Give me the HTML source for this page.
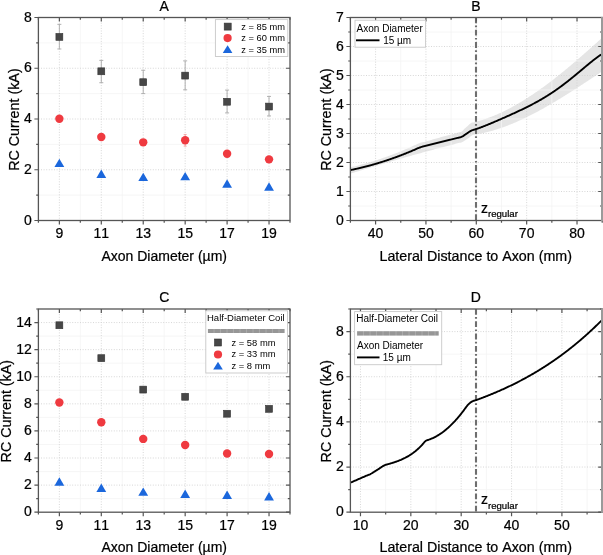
<!DOCTYPE html>
<html><head><meta charset="utf-8"><style>
html,body{margin:0;padding:0;background:#fff;width:603px;height:555px;overflow:hidden}
svg{display:block;will-change:transform;font-kerning:none}
.b{stroke:#000;stroke-width:0.22px}
</style></head><body>
<svg width="603" height="555" viewBox="0 0 603 555" font-family='"Liberation Sans", sans-serif' fill="#000">
<rect width="603" height="555" fill="#fff"/>
<defs><pattern id="hb" x="0" y="0" width="6.5" height="10" patternUnits="userSpaceOnUse"><rect width="6.5" height="10" fill="#969696"/><rect x="5.5" width="1" height="10" fill="#aaa"/></pattern></defs>
<line x1="80.33" y1="17.5" x2="80.33" y2="220.5" stroke="#f4f4f4" stroke-width="0.8"/>
<line x1="122.27" y1="17.5" x2="122.27" y2="220.5" stroke="#f4f4f4" stroke-width="0.8"/>
<line x1="164.2" y1="17.5" x2="164.2" y2="220.5" stroke="#f4f4f4" stroke-width="0.8"/>
<line x1="206.13" y1="17.5" x2="206.13" y2="220.5" stroke="#f4f4f4" stroke-width="0.8"/>
<line x1="248.07" y1="17.5" x2="248.07" y2="220.5" stroke="#f4f4f4" stroke-width="0.8"/>
<line x1="38.4" y1="195.12" x2="290" y2="195.12" stroke="#f4f4f4" stroke-width="0.8"/>
<line x1="38.4" y1="144.38" x2="290" y2="144.38" stroke="#f4f4f4" stroke-width="0.8"/>
<line x1="38.4" y1="93.62" x2="290" y2="93.62" stroke="#f4f4f4" stroke-width="0.8"/>
<line x1="38.4" y1="42.88" x2="290" y2="42.88" stroke="#f4f4f4" stroke-width="0.8"/>
<line x1="59.37" y1="17.5" x2="59.37" y2="220.5" stroke="#d2d2d2" stroke-width="0.9" stroke-dasharray="1 1.6"/>
<line x1="101.3" y1="17.5" x2="101.3" y2="220.5" stroke="#d2d2d2" stroke-width="0.9" stroke-dasharray="1 1.6"/>
<line x1="143.23" y1="17.5" x2="143.23" y2="220.5" stroke="#d2d2d2" stroke-width="0.9" stroke-dasharray="1 1.6"/>
<line x1="185.17" y1="17.5" x2="185.17" y2="220.5" stroke="#d2d2d2" stroke-width="0.9" stroke-dasharray="1 1.6"/>
<line x1="227.1" y1="17.5" x2="227.1" y2="220.5" stroke="#d2d2d2" stroke-width="0.9" stroke-dasharray="1 1.6"/>
<line x1="269.03" y1="17.5" x2="269.03" y2="220.5" stroke="#d2d2d2" stroke-width="0.9" stroke-dasharray="1 1.6"/>
<line x1="38.4" y1="169.75" x2="290" y2="169.75" stroke="#d2d2d2" stroke-width="0.9" stroke-dasharray="1 1.6"/>
<line x1="38.4" y1="119" x2="290" y2="119" stroke="#d2d2d2" stroke-width="0.9" stroke-dasharray="1 1.6"/>
<line x1="38.4" y1="68.25" x2="290" y2="68.25" stroke="#d2d2d2" stroke-width="0.9" stroke-dasharray="1 1.6"/>
<path d="M59.37 24.35V48.97M57.37 24.35h4.0M57.37 48.97h4.0" stroke="#a8a8a8" stroke-width="0.9" fill="none"/>
<path d="M101.3 60.38V82.71M99.3 60.38h4.0M99.3 82.71h4.0" stroke="#a8a8a8" stroke-width="0.9" fill="none"/>
<path d="M143.23 70.28V93.62M141.23 70.28h4.0M141.23 93.62h4.0" stroke="#a8a8a8" stroke-width="0.9" fill="none"/>
<path d="M185.17 60.89V89.82M183.17 60.89h4.0M183.17 89.82h4.0" stroke="#a8a8a8" stroke-width="0.9" fill="none"/>
<path d="M227.1 90.07V112.91M225.1 90.07h4.0M225.1 112.91h4.0" stroke="#a8a8a8" stroke-width="0.9" fill="none"/>
<path d="M269.03 96.42V115.95M267.03 96.42h4.0M267.03 115.95h4.0" stroke="#a8a8a8" stroke-width="0.9" fill="none"/>
<path d="M59.37 115.95V121.54M57.87 115.95h3M57.87 121.54h3" stroke="#f4a0a0" stroke-width="0.9" fill="none"/>
<path d="M101.3 134.23V139.81M99.8 134.23h3M99.8 139.81h3" stroke="#f4a0a0" stroke-width="0.9" fill="none"/>
<path d="M143.23 139.55V145.14M141.73 139.55h3M141.73 145.14h3" stroke="#f4a0a0" stroke-width="0.9" fill="none"/>
<path d="M185.17 134.48V146.15M183.67 134.48h3M183.67 146.15h3" stroke="#f4a0a0" stroke-width="0.9" fill="none"/>
<path d="M227.1 151.48V156.05M225.6 151.48h3M225.6 156.05h3" stroke="#f4a0a0" stroke-width="0.9" fill="none"/>
<path d="M269.03 157.57V161.12M267.53 157.57h3M267.53 161.12h3" stroke="#f4a0a0" stroke-width="0.9" fill="none"/>
<rect x="55.92" y="33.46" width="6.9" height="6.9" fill="#474747" stroke="#333" stroke-width="0.6"/>
<rect x="97.85" y="67.85" width="6.9" height="6.9" fill="#474747" stroke="#333" stroke-width="0.6"/>
<rect x="139.78" y="78.76" width="6.9" height="6.9" fill="#474747" stroke="#333" stroke-width="0.6"/>
<rect x="181.72" y="72.16" width="6.9" height="6.9" fill="#474747" stroke="#333" stroke-width="0.6"/>
<rect x="223.65" y="98.3" width="6.9" height="6.9" fill="#474747" stroke="#333" stroke-width="0.6"/>
<rect x="265.58" y="103.12" width="6.9" height="6.9" fill="#474747" stroke="#333" stroke-width="0.6"/>
<circle cx="59.37" cy="118.75" r="4.2" fill="#ef3a40"/>
<circle cx="101.3" cy="137.02" r="4.2" fill="#ef3a40"/>
<circle cx="143.23" cy="142.34" r="4.2" fill="#ef3a40"/>
<circle cx="185.17" cy="140.31" r="4.2" fill="#ef3a40"/>
<circle cx="227.1" cy="153.76" r="4.2" fill="#ef3a40"/>
<circle cx="269.03" cy="159.35" r="4.2" fill="#ef3a40"/>
<path d="M59.37 158.7L64.27 167.1L54.47 167.1Z" fill="#1b67dc"/>
<path d="M101.3 169.61L106.2 178.01L96.4 178.01Z" fill="#1b67dc"/>
<path d="M143.23 172.66L148.13 181.06L138.33 181.06Z" fill="#1b67dc"/>
<path d="M185.17 171.89L190.07 180.29L180.27 180.29Z" fill="#1b67dc"/>
<path d="M227.1 179.25L232 187.65L222.2 187.65Z" fill="#1b67dc"/>
<path d="M269.03 182.3L273.93 190.7L264.13 190.7Z" fill="#1b67dc"/>
<path d="M59.37 220.5v4.0M59.37 17.5v4.0M101.3 220.5v4.0M101.3 17.5v4.0M143.23 220.5v4.0M143.23 17.5v4.0M185.17 220.5v4.0M185.17 17.5v4.0M227.1 220.5v4.0M227.1 17.5v4.0M269.03 220.5v4.0M269.03 17.5v4.0M38.4 220.5v2.2M38.4 17.5v2.2M80.33 220.5v2.2M80.33 17.5v2.2M122.27 220.5v2.2M122.27 17.5v2.2M164.2 220.5v2.2M164.2 17.5v2.2M206.13 220.5v2.2M206.13 17.5v2.2M248.07 220.5v2.2M248.07 17.5v2.2M290 220.5v2.2M290 17.5v2.2M38.4 220.5h-4.0M290 220.5h-4.0M38.4 169.75h-4.0M290 169.75h-4.0M38.4 119h-4.0M290 119h-4.0M38.4 68.25h-4.0M290 68.25h-4.0M38.4 17.5h-4.0M290 17.5h-4.0M38.4 195.12h-2.2M290 195.12h-2.2M38.4 144.38h-2.2M290 144.38h-2.2M38.4 93.62h-2.2M290 93.62h-2.2M38.4 42.88h-2.2M290 42.88h-2.2" stroke="#555" stroke-width="1.2" fill="none"/>
<rect x="38.4" y="17.5" width="251.6" height="203" fill="none" stroke="#555" stroke-width="1.3"/>
<text x="59.37" y="238.4" font-size="14" text-anchor="middle" class="b" >9</text>
<text x="101.3" y="238.4" font-size="14" text-anchor="middle" class="b" >11</text>
<text x="143.23" y="238.4" font-size="14" text-anchor="middle" class="b" >13</text>
<text x="185.17" y="238.4" font-size="14" text-anchor="middle" class="b" >15</text>
<text x="227.1" y="238.4" font-size="14" text-anchor="middle" class="b" >17</text>
<text x="269.03" y="238.4" font-size="14" text-anchor="middle" class="b" >19</text>
<text x="31.9" y="224.7" font-size="14" text-anchor="end" class="b" >0</text>
<text x="31.9" y="173.95" font-size="14" text-anchor="end" class="b" >2</text>
<text x="31.9" y="123.2" font-size="14" text-anchor="end" class="b" >4</text>
<text x="31.9" y="72.45" font-size="14" text-anchor="end" class="b" >6</text>
<text x="31.9" y="21.7" font-size="14" text-anchor="end" class="b" >8</text>
<text x="164.2" y="10.9" font-size="14" text-anchor="middle" class="b" >A</text>
<text x="164.2" y="261.3" font-size="14" text-anchor="middle" class="b" >Axon Diameter (µm)</text>
<text x="0" y="0" font-size="14.3" text-anchor="middle" class="b" transform="translate(19.3 119.6) rotate(-90)">RC Current (kA)</text>
<rect x="215.4" y="19.6" width="72.4" height="36.9" fill="#fff" stroke="#c8c8c8" stroke-width="0.9"/>
<rect x="224.2" y="23.1" width="7" height="7" fill="#474747" stroke="#333" stroke-width="0.6"/>
<circle cx="227.6" cy="38.1" r="4.1" fill="#ef3a40"/>
<path d="M227.6 45.3L232.4 53.1L222.8 53.1Z" fill="#1b67dc"/>
<text x="241.3" y="29.9" font-size="9.3" text-anchor="start" >z = 85 mm</text>
<text x="241.3" y="41.4" font-size="9.3" text-anchor="start" >z = 60 mm</text>
<text x="241.3" y="52.9" font-size="9.3" text-anchor="start" >z = 35 mm</text>
<path d="M350.4 167.31L351.4 167.08L352.4 166.85L353.4 166.62L354.4 166.38L355.4 166.14L356.4 165.89L357.4 165.64L358.4 165.39L359.4 165.13L360.4 164.87L361.4 164.6L362.4 164.34L363.4 164.06L364.4 163.79L365.4 163.51L366.4 163.23L367.4 162.94L368.4 162.65L369.4 162.36L370.4 162.06L371.4 161.76L372.4 161.45L373.4 161.15L374.4 160.83L375.4 160.52L376.4 160.2L377.4 159.88L378.4 159.55L379.4 159.22L380.4 158.89L381.4 158.55L382.4 158.21L383.4 157.86L384.4 157.52L385.4 157.16L386.4 156.81L387.4 156.45L388.4 156.09L389.4 155.72L390.4 155.35L391.4 154.98L392.4 154.6L393.4 154.22L394.4 153.83L395.4 153.44L396.4 153.05L397.4 152.66L398.4 152.26L399.4 151.85L400.4 151.45L401.4 151.04L402.4 150.62L403.4 150.21L404.4 149.79L405.4 149.36L406.4 148.93L407.4 148.5L408.4 148.07L409.4 147.63L410.4 147.18L411.4 146.74L412.4 146.29L413.4 145.83L414.4 145.37L415.4 144.91L416.4 144.44L417.4 143.97L418.4 143.55L419.4 143.17L420.4 142.83L421.4 142.54L422.4 142.3L423.4 142.1L424.4 141.89L425.4 141.6L426.4 141.31L427.4 141.02L428.4 140.74L429.4 140.45L430.4 140.17L431.4 139.88L432.4 139.6L433.4 139.32L434.4 139.04L435.4 138.76L436.4 138.48L437.4 138.2L438.4 137.92L439.4 137.65L440.4 137.37L441.4 137.1L442.4 136.82L443.4 136.55L444.4 136.28L445.4 136.01L446.4 135.74L447.4 135.47L448.4 135.21L449.4 134.94L450.4 134.68L451.4 134.41L452.4 134.15L453.4 133.89L454.4 133.62L455.4 133.36L456.4 133.1L457.4 132.85L458.4 132.59L459.4 132.33L460.4 132.09L461.4 131.63L462.4 130.93L463.4 129.98L464.4 128.8L465.4 127.9L466.4 127.05L467.4 126.2L468.4 125.34L469.4 124.27L470.4 123.42L471.4 122.83L472.4 122.48L473.4 122.38L474.4 122.16L475.4 121.91L476.4 121.65L477.4 121.39L478.4 121.11L479.4 120.83L480.4 120.53L481.4 120.23L482.4 119.92L483.4 119.6L484.4 119.27L485.4 118.93L486.4 118.59L487.4 118.23L488.4 117.87L489.4 117.5L490.4 117.12L491.4 116.73L492.4 116.34L493.4 115.94L494.4 115.53L495.4 115.11L496.4 114.68L497.4 114.25L498.4 113.8L499.4 113.35L500.4 112.9L501.4 112.43L502.4 111.96L503.4 111.48L504.4 110.99L505.4 110.5L506.4 110L507.4 109.49L508.4 108.98L509.4 108.45L510.4 107.92L511.4 107.39L512.4 106.84L513.4 106.29L514.4 105.74L515.4 105.17L516.4 104.6L517.4 104.03L518.4 103.44L519.4 102.85L520.4 102.26L521.4 101.65L522.4 101.05L523.4 100.43L524.4 99.81L525.4 99.18L526.4 98.55L527.4 97.91L528.4 97.27L529.4 96.62L530.4 95.96L531.4 95.3L532.4 94.63L533.4 93.96L534.4 93.28L535.4 92.59L536.4 91.9L537.4 91.21L538.4 90.51L539.4 89.8L540.4 89.09L541.4 88.37L542.4 87.65L543.4 86.93L544.4 86.2L545.4 85.46L546.4 84.72L547.4 83.97L548.4 83.22L549.4 82.47L550.4 81.71L551.4 80.95L552.4 80.18L553.4 79.4L554.4 78.63L555.4 77.85L556.4 77.06L557.4 76.27L558.4 75.48L559.4 74.68L560.4 73.88L561.4 73.07L562.4 72.26L563.4 71.45L564.4 70.63L565.4 69.81L566.4 68.99L567.4 68.16L568.4 67.33L569.4 66.49L570.4 65.65L571.4 64.81L572.4 63.97L573.4 63.12L574.4 62.27L575.4 61.42L576.4 60.56L577.4 59.7L578.4 58.83L579.4 57.97L580.4 57.1L581.4 56.23L582.4 55.36L583.4 54.48L584.4 53.6L585.4 52.72L586.4 51.83L587.4 50.95L588.4 50.06L589.4 49.17L590.4 48.28L591.4 47.38L592.4 46.48L593.4 45.58L594.4 44.68L595.4 43.78L596.4 42.88L597.4 41.97L598.4 41.06L599.4 40.15L600.4 39.24L601.4 38.33L601.8 37.96L601.8 71.67L601.4 71.93L600.4 72.59L599.4 73.25L598.4 73.91L597.4 74.57L596.4 75.23L595.4 75.89L594.4 76.55L593.4 77.21L592.4 77.87L591.4 78.53L590.4 79.19L589.4 79.84L588.4 80.5L587.4 81.16L586.4 81.81L585.4 82.47L584.4 83.12L583.4 83.77L582.4 84.43L581.4 85.08L580.4 85.73L579.4 86.38L578.4 87.03L577.4 87.67L576.4 88.32L575.4 88.96L574.4 89.6L573.4 90.24L572.4 90.88L571.4 91.52L570.4 92.15L569.4 92.79L568.4 93.42L567.4 94.05L566.4 94.68L565.4 95.3L564.4 95.93L563.4 96.55L562.4 97.16L561.4 97.78L560.4 98.39L559.4 99.01L558.4 99.62L557.4 100.22L556.4 100.82L555.4 101.43L554.4 102.02L553.4 102.62L552.4 103.21L551.4 103.8L550.4 104.38L549.4 104.97L548.4 105.55L547.4 106.12L546.4 106.69L545.4 107.26L544.4 107.83L543.4 108.39L542.4 108.95L541.4 109.5L540.4 110.05L539.4 110.6L538.4 111.14L537.4 111.68L536.4 112.22L535.4 112.75L534.4 113.27L533.4 113.79L532.4 114.31L531.4 114.83L530.4 115.33L529.4 115.84L528.4 116.34L527.4 116.83L526.4 117.32L525.4 117.81L524.4 118.29L523.4 118.77L522.4 119.24L521.4 119.7L520.4 120.16L519.4 120.62L518.4 121.07L517.4 121.51L516.4 121.95L515.4 122.38L514.4 122.81L513.4 123.24L512.4 123.65L511.4 124.06L510.4 124.47L509.4 124.87L508.4 125.26L507.4 125.65L506.4 126.03L505.4 126.41L504.4 126.77L503.4 127.14L502.4 127.49L501.4 127.84L500.4 128.19L499.4 128.52L498.4 128.85L497.4 129.18L496.4 129.49L495.4 129.8L494.4 130.11L493.4 130.4L492.4 130.69L491.4 130.97L490.4 131.25L489.4 131.51L488.4 131.77L487.4 132.03L486.4 132.27L485.4 132.51L484.4 132.74L483.4 132.96L482.4 133.18L481.4 133.38L480.4 133.58L479.4 133.78L478.4 133.96L477.4 134.13L476.4 134.3L475.4 134.46L474.4 134.6L473.4 134.79L472.4 135.18L471.4 135.77L470.4 136.56L469.4 137.53L468.4 138.18L467.4 138.83L466.4 139.48L465.4 140.13L464.4 140.8L463.4 141.52L462.4 142.08L461.4 142.49L460.4 142.74L459.4 142.85L458.4 143.1L457.4 143.36L456.4 143.61L455.4 143.87L454.4 144.13L453.4 144.38L452.4 144.64L451.4 144.9L450.4 145.16L449.4 145.42L448.4 145.68L447.4 145.94L446.4 146.2L445.4 146.46L444.4 146.72L443.4 146.98L442.4 147.25L441.4 147.51L440.4 147.77L439.4 148.04L438.4 148.3L437.4 148.57L436.4 148.83L435.4 149.1L434.4 149.37L433.4 149.63L432.4 149.9L431.4 150.17L430.4 150.44L429.4 150.71L428.4 150.98L427.4 151.25L426.4 151.52L425.4 151.79L424.4 152.07L423.4 152.34L422.4 152.61L421.4 152.89L420.4 153.16L419.4 153.44L418.4 153.71L417.4 153.99L416.4 154.26L415.4 154.54L414.4 154.82L413.4 155.1L412.4 155.37L411.4 155.65L410.4 155.93L409.4 156.21L408.4 156.49L407.4 156.78L406.4 157.06L405.4 157.34L404.4 157.62L403.4 157.91L402.4 158.19L401.4 158.47L400.4 158.76L399.4 159.04L398.4 159.33L397.4 159.62L396.4 159.9L395.4 160.19L394.4 160.48L393.4 160.77L392.4 161.06L391.4 161.35L390.4 161.64L389.4 161.93L388.4 162.22L387.4 162.51L386.4 162.8L385.4 163.09L384.4 163.39L383.4 163.68L382.4 163.98L381.4 164.27L380.4 164.57L379.4 164.86L378.4 165.16L377.4 165.46L376.4 165.75L375.4 166.05L374.4 166.35L373.4 166.65L372.4 166.95L371.4 167.25L370.4 167.55L369.4 167.85L368.4 168.15L367.4 168.45L366.4 168.76L365.4 169.06L364.4 169.36L363.4 169.67L362.4 169.97L361.4 170.28L360.4 170.58L359.4 170.89L358.4 171.2L357.4 171.5L356.4 171.81L355.4 172.12L354.4 172.43L353.4 172.74L352.4 173.05L351.4 173.36L350.4 173.67Z" fill="#e5e5e5"/>
<line x1="400.76" y1="17.5" x2="400.76" y2="220.5" stroke="#f4f4f4" stroke-width="0.8"/>
<line x1="451.12" y1="17.5" x2="451.12" y2="220.5" stroke="#f4f4f4" stroke-width="0.8"/>
<line x1="501.48" y1="17.5" x2="501.48" y2="220.5" stroke="#f4f4f4" stroke-width="0.8"/>
<line x1="551.84" y1="17.5" x2="551.84" y2="220.5" stroke="#f4f4f4" stroke-width="0.8"/>
<line x1="350.4" y1="206" x2="602.2" y2="206" stroke="#f4f4f4" stroke-width="0.8"/>
<line x1="350.4" y1="177" x2="602.2" y2="177" stroke="#f4f4f4" stroke-width="0.8"/>
<line x1="350.4" y1="148" x2="602.2" y2="148" stroke="#f4f4f4" stroke-width="0.8"/>
<line x1="350.4" y1="119" x2="602.2" y2="119" stroke="#f4f4f4" stroke-width="0.8"/>
<line x1="350.4" y1="90" x2="602.2" y2="90" stroke="#f4f4f4" stroke-width="0.8"/>
<line x1="350.4" y1="61" x2="602.2" y2="61" stroke="#f4f4f4" stroke-width="0.8"/>
<line x1="350.4" y1="32" x2="602.2" y2="32" stroke="#f4f4f4" stroke-width="0.8"/>
<line x1="375.58" y1="17.5" x2="375.58" y2="220.5" stroke="#d2d2d2" stroke-width="0.9" stroke-dasharray="1 1.6"/>
<line x1="425.94" y1="17.5" x2="425.94" y2="220.5" stroke="#d2d2d2" stroke-width="0.9" stroke-dasharray="1 1.6"/>
<line x1="476.3" y1="17.5" x2="476.3" y2="220.5" stroke="#d2d2d2" stroke-width="0.9" stroke-dasharray="1 1.6"/>
<line x1="526.66" y1="17.5" x2="526.66" y2="220.5" stroke="#d2d2d2" stroke-width="0.9" stroke-dasharray="1 1.6"/>
<line x1="577.02" y1="17.5" x2="577.02" y2="220.5" stroke="#d2d2d2" stroke-width="0.9" stroke-dasharray="1 1.6"/>
<line x1="350.4" y1="191.5" x2="602.2" y2="191.5" stroke="#d2d2d2" stroke-width="0.9" stroke-dasharray="1 1.6"/>
<line x1="350.4" y1="162.5" x2="602.2" y2="162.5" stroke="#d2d2d2" stroke-width="0.9" stroke-dasharray="1 1.6"/>
<line x1="350.4" y1="133.5" x2="602.2" y2="133.5" stroke="#d2d2d2" stroke-width="0.9" stroke-dasharray="1 1.6"/>
<line x1="350.4" y1="104.5" x2="602.2" y2="104.5" stroke="#d2d2d2" stroke-width="0.9" stroke-dasharray="1 1.6"/>
<line x1="350.4" y1="75.5" x2="602.2" y2="75.5" stroke="#d2d2d2" stroke-width="0.9" stroke-dasharray="1 1.6"/>
<line x1="350.4" y1="46.5" x2="602.2" y2="46.5" stroke="#d2d2d2" stroke-width="0.9" stroke-dasharray="1 1.6"/>
<line x1="476.0" y1="17.5" x2="476.0" y2="220.5" stroke="#6e6e6e" stroke-width="2.1" stroke-dasharray="5.8 2.3 1.7 2.5"/>
<path d="M350.4 170.01L350.9 169.95L351.4 169.87L351.9 169.77L352.4 169.67L352.9 169.57L353.4 169.46L353.9 169.36L354.4 169.25L354.9 169.14L355.4 169.03L355.9 168.92L356.4 168.81L356.9 168.69L357.4 168.58L357.9 168.47L358.4 168.35L358.9 168.24L359.4 168.12L359.9 168L360.4 167.88L360.9 167.76L361.4 167.64L361.9 167.52L362.4 167.4L362.9 167.28L363.4 167.15L363.9 167.03L364.4 166.9L364.9 166.77L365.4 166.65L365.9 166.52L366.4 166.39L366.9 166.26L367.4 166.13L367.9 166L368.4 165.86L368.9 165.73L369.4 165.59L369.9 165.46L370.4 165.32L370.9 165.18L371.4 165.05L371.9 164.91L372.4 164.77L372.9 164.63L373.4 164.48L373.9 164.34L374.4 164.2L374.9 164.05L375.4 163.91L375.9 163.76L376.4 163.61L376.9 163.47L377.4 163.32L377.9 163.17L378.4 163.02L378.9 162.86L379.4 162.71L379.9 162.56L380.4 162.4L380.9 162.25L381.4 162.09L381.9 161.94L382.4 161.78L382.9 161.62L383.4 161.46L383.9 161.3L384.4 161.14L384.9 160.97L385.4 160.81L385.9 160.65L386.4 160.48L386.9 160.32L387.4 160.15L387.9 159.98L388.4 159.81L388.9 159.64L389.4 159.47L389.9 159.3L390.4 159.13L390.9 158.96L391.4 158.78L391.9 158.61L392.4 158.43L392.9 158.26L393.4 158.08L393.9 157.9L394.4 157.72L394.9 157.54L395.4 157.36L395.9 157.18L396.4 156.99L396.9 156.81L397.4 156.63L397.9 156.44L398.4 156.25L398.9 156.07L399.4 155.88L399.9 155.69L400.4 155.5L400.9 155.31L401.4 155.12L401.9 154.92L402.4 154.73L402.9 154.54L403.4 154.34L403.9 154.14L404.4 153.95L404.9 153.75L405.4 153.55L405.9 153.35L406.4 153.15L406.9 152.95L407.4 152.74L407.9 152.54L408.4 152.34L408.9 152.13L409.4 151.93L409.9 151.72L410.4 151.51L410.9 151.3L411.4 151.09L411.9 150.88L412.4 150.66L412.9 150.45L413.4 150.23L413.9 150.01L414.4 149.79L414.9 149.56L415.4 149.33L415.9 149.1L416.4 148.88L416.9 148.66L417.4 148.45L417.9 148.24L418.4 148.04L418.9 147.85L419.4 147.67L419.9 147.49L420.4 147.31L420.9 147.14L421.4 146.97L421.9 146.81L422.4 146.65L422.9 146.51L423.4 146.37L423.9 146.24L424.4 146.12L424.9 146L425.4 145.88L425.9 145.76L426.4 145.64L426.9 145.51L427.4 145.39L427.9 145.27L428.4 145.14L428.9 145.02L429.4 144.89L429.9 144.77L430.4 144.64L430.9 144.52L431.4 144.39L431.9 144.27L432.4 144.14L432.9 144.02L433.4 143.89L433.9 143.77L434.4 143.64L434.9 143.52L435.4 143.39L435.9 143.27L436.4 143.14L436.9 143.02L437.4 142.89L437.9 142.77L438.4 142.64L438.9 142.52L439.4 142.39L439.9 142.27L440.4 142.15L440.9 142.02L441.4 141.9L441.9 141.77L442.4 141.65L442.9 141.52L443.4 141.4L443.9 141.28L444.4 141.15L444.9 141.03L445.4 140.9L445.9 140.78L446.4 140.66L446.9 140.53L447.4 140.41L447.9 140.29L448.4 140.16L448.9 140.04L449.4 139.92L449.9 139.79L450.4 139.67L450.9 139.55L451.4 139.42L451.9 139.3L452.4 139.18L452.9 139.05L453.4 138.93L453.9 138.81L454.4 138.68L454.9 138.56L455.4 138.44L455.9 138.32L456.4 138.19L456.9 138.07L457.4 137.95L457.9 137.83L458.4 137.71L458.9 137.59L459.4 137.48L459.9 137.37L460.4 137.24L460.9 137.09L461.4 136.92L461.9 136.7L462.4 136.45L462.9 136.16L463.4 135.84L463.9 135.5L464.4 135.15L464.9 134.8L465.4 134.46L465.9 134.12L466.4 133.79L466.9 133.46L467.4 133.13L467.9 132.79L468.4 132.44L468.9 132.09L469.4 131.75L469.9 131.42L470.4 131.11L470.9 130.84L471.4 130.6L471.9 130.39L472.4 130.21L472.9 130.05L473.4 129.91L473.9 129.76L474.4 129.61L474.9 129.46L475.4 129.3L475.9 129.13L476.4 128.97L476.9 128.8L477.4 128.63L477.9 128.45L478.4 128.28L478.9 128.1L479.4 127.92L479.9 127.74L480.4 127.55L480.9 127.37L481.4 127.18L481.9 126.99L482.4 126.8L482.9 126.61L483.4 126.41L483.9 126.22L484.4 126.02L484.9 125.83L485.4 125.63L485.9 125.43L486.4 125.23L486.9 125.03L487.4 124.82L487.9 124.62L488.4 124.41L488.9 124.21L489.4 124L489.9 123.79L490.4 123.59L490.9 123.38L491.4 123.17L491.9 122.96L492.4 122.75L492.9 122.53L493.4 122.32L493.9 122.11L494.4 121.9L494.9 121.68L495.4 121.47L495.9 121.25L496.4 121.04L496.9 120.82L497.4 120.61L497.9 120.39L498.4 120.17L498.9 119.96L499.4 119.74L499.9 119.52L500.4 119.3L500.9 119.08L501.4 118.86L501.9 118.64L502.4 118.42L502.9 118.2L503.4 117.98L503.9 117.76L504.4 117.54L504.9 117.32L505.4 117.1L505.9 116.88L506.4 116.65L506.9 116.43L507.4 116.21L507.9 115.98L508.4 115.76L508.9 115.54L509.4 115.31L509.9 115.09L510.4 114.86L510.9 114.64L511.4 114.41L511.9 114.18L512.4 113.96L512.9 113.73L513.4 113.5L513.9 113.27L514.4 113.04L514.9 112.81L515.4 112.58L515.9 112.35L516.4 112.12L516.9 111.89L517.4 111.66L517.9 111.42L518.4 111.19L518.9 110.96L519.4 110.72L519.9 110.48L520.4 110.25L520.9 110.01L521.4 109.77L521.9 109.53L522.4 109.29L522.9 109.05L523.4 108.81L523.9 108.57L524.4 108.32L524.9 108.08L525.4 107.83L525.9 107.59L526.4 107.34L526.9 107.09L527.4 106.84L527.9 106.59L528.4 106.34L528.9 106.09L529.4 105.83L529.9 105.58L530.4 105.32L530.9 105.06L531.4 104.8L531.9 104.54L532.4 104.28L532.9 104.02L533.4 103.75L533.9 103.49L534.4 103.22L534.9 102.95L535.4 102.68L535.9 102.41L536.4 102.14L536.9 101.86L537.4 101.58L537.9 101.31L538.4 101.03L538.9 100.74L539.4 100.46L539.9 100.18L540.4 99.89L540.9 99.6L541.4 99.31L541.9 99.02L542.4 98.73L542.9 98.43L543.4 98.13L543.9 97.83L544.4 97.53L544.9 97.23L545.4 96.93L545.9 96.62L546.4 96.31L546.9 96L547.4 95.69L547.9 95.37L548.4 95.06L548.9 94.74L549.4 94.42L549.9 94.1L550.4 93.77L550.9 93.44L551.4 93.12L551.9 92.79L552.4 92.45L552.9 92.12L553.4 91.78L553.9 91.44L554.4 91.1L554.9 90.76L555.4 90.41L555.9 90.07L556.4 89.72L556.9 89.37L557.4 89.01L557.9 88.66L558.4 88.3L558.9 87.94L559.4 87.58L559.9 87.22L560.4 86.85L560.9 86.48L561.4 86.12L561.9 85.74L562.4 85.37L562.9 85L563.4 84.62L563.9 84.24L564.4 83.86L564.9 83.48L565.4 83.09L565.9 82.71L566.4 82.32L566.9 81.93L567.4 81.54L567.9 81.15L568.4 80.75L568.9 80.36L569.4 79.96L569.9 79.56L570.4 79.16L570.9 78.76L571.4 78.35L571.9 77.95L572.4 77.54L572.9 77.13L573.4 76.73L573.9 76.32L574.4 75.91L574.9 75.49L575.4 75.08L575.9 74.67L576.4 74.25L576.9 73.84L577.4 73.42L577.9 73L578.4 72.59L578.9 72.17L579.4 71.75L579.9 71.33L580.4 70.91L580.9 70.49L581.4 70.08L581.9 69.66L582.4 69.24L582.9 68.82L583.4 68.4L583.9 67.98L584.4 67.56L584.9 67.14L585.4 66.73L585.9 66.31L586.4 65.89L586.9 65.48L587.4 65.07L587.9 64.65L588.4 64.24L588.9 63.83L589.4 63.42L589.9 63.01L590.4 62.61L590.9 62.21L591.4 61.8L591.9 61.4L592.4 61.01L592.9 60.61L593.4 60.22L593.9 59.83L594.4 59.44L594.9 59.06L595.4 58.67L595.9 58.3L596.4 57.92L596.9 57.55L597.4 57.18L597.9 56.82L598.4 56.46L598.9 56.1L599.4 55.75L599.9 55.41L600.4 55.08L600.9 54.79L601.4 54.54L601.8 54.35" stroke="#000" stroke-width="1.9" fill="none" stroke-linejoin="round"/>
<path d="M375.58 220.5v4.0M375.58 17.5v4.0M425.94 220.5v4.0M425.94 17.5v4.0M476.3 220.5v4.0M476.3 17.5v4.0M526.66 220.5v4.0M526.66 17.5v4.0M577.02 220.5v4.0M577.02 17.5v4.0M350.4 220.5v2.2M350.4 17.5v2.2M400.76 220.5v2.2M400.76 17.5v2.2M451.12 220.5v2.2M451.12 17.5v2.2M501.48 220.5v2.2M501.48 17.5v2.2M551.84 220.5v2.2M551.84 17.5v2.2M602.2 220.5v2.2M602.2 17.5v2.2M350.4 220.5h-4.0M602.2 220.5h-4.0M350.4 191.5h-4.0M602.2 191.5h-4.0M350.4 162.5h-4.0M602.2 162.5h-4.0M350.4 133.5h-4.0M602.2 133.5h-4.0M350.4 104.5h-4.0M602.2 104.5h-4.0M350.4 75.5h-4.0M602.2 75.5h-4.0M350.4 46.5h-4.0M602.2 46.5h-4.0M350.4 17.5h-4.0M602.2 17.5h-4.0M350.4 206h-2.2M602.2 206h-2.2M350.4 177h-2.2M602.2 177h-2.2M350.4 148h-2.2M602.2 148h-2.2M350.4 119h-2.2M602.2 119h-2.2M350.4 90h-2.2M602.2 90h-2.2M350.4 61h-2.2M602.2 61h-2.2M350.4 32h-2.2M602.2 32h-2.2" stroke="#555" stroke-width="1.2" fill="none"/>
<rect x="350.4" y="17.5" width="251.8" height="203" fill="none" stroke="#555" stroke-width="1.3"/>
<rect x="601" y="16.9" width="2" height="204.2" fill="#9a9a9a"/>
<text x="375.58" y="238.4" font-size="14" text-anchor="middle" class="b" >40</text>
<text x="425.94" y="238.4" font-size="14" text-anchor="middle" class="b" >50</text>
<text x="476.3" y="238.4" font-size="14" text-anchor="middle" class="b" >60</text>
<text x="526.66" y="238.4" font-size="14" text-anchor="middle" class="b" >70</text>
<text x="577.02" y="238.4" font-size="14" text-anchor="middle" class="b" >80</text>
<text x="343.7" y="224.7" font-size="14" text-anchor="end" class="b" >0</text>
<text x="343.7" y="195.7" font-size="14" text-anchor="end" class="b" >1</text>
<text x="343.7" y="166.7" font-size="14" text-anchor="end" class="b" >2</text>
<text x="343.7" y="137.7" font-size="14" text-anchor="end" class="b" >3</text>
<text x="343.7" y="108.7" font-size="14" text-anchor="end" class="b" >4</text>
<text x="343.7" y="79.7" font-size="14" text-anchor="end" class="b" >5</text>
<text x="343.7" y="50.7" font-size="14" text-anchor="end" class="b" >6</text>
<text x="343.7" y="21.7" font-size="14" text-anchor="end" class="b" >7</text>
<text x="475.8" y="10.9" font-size="14" text-anchor="middle" class="b" >B</text>
<text x="475.7" y="261.3" font-size="14.25" text-anchor="middle" class="b" >Lateral Distance to Axon (mm)</text>
<text x="0" y="0" font-size="14.3" text-anchor="middle" class="b" transform="translate(331.3 119.6) rotate(-90)">RC Current (kA)</text>
<text class="b" x="481" y="212.7" font-size="14">z<tspan font-size="9.6" dy="4.1">regular</tspan></text>
<rect x="355" y="20.2" width="70.6" height="27" fill="#fff" stroke="#c8c8c8" stroke-width="0.9"/>
<text x="356.6" y="31.6" font-size="10" text-anchor="start" >Axon Diameter</text>
<line x1="356" y1="40.3" x2="379.5" y2="40.3" stroke="#000" stroke-width="1.9"/>
<text x="383.2" y="44" font-size="10" text-anchor="start" >15 µm</text>
<line x1="80.33" y1="309" x2="80.33" y2="512.2" stroke="#f4f4f4" stroke-width="0.8"/>
<line x1="122.27" y1="309" x2="122.27" y2="512.2" stroke="#f4f4f4" stroke-width="0.8"/>
<line x1="164.2" y1="309" x2="164.2" y2="512.2" stroke="#f4f4f4" stroke-width="0.8"/>
<line x1="206.13" y1="309" x2="206.13" y2="512.2" stroke="#f4f4f4" stroke-width="0.8"/>
<line x1="248.07" y1="309" x2="248.07" y2="512.2" stroke="#f4f4f4" stroke-width="0.8"/>
<line x1="38.4" y1="498.65" x2="290" y2="498.65" stroke="#f4f4f4" stroke-width="0.8"/>
<line x1="38.4" y1="471.56" x2="290" y2="471.56" stroke="#f4f4f4" stroke-width="0.8"/>
<line x1="38.4" y1="444.47" x2="290" y2="444.47" stroke="#f4f4f4" stroke-width="0.8"/>
<line x1="38.4" y1="417.37" x2="290" y2="417.37" stroke="#f4f4f4" stroke-width="0.8"/>
<line x1="38.4" y1="390.28" x2="290" y2="390.28" stroke="#f4f4f4" stroke-width="0.8"/>
<line x1="38.4" y1="363.19" x2="290" y2="363.19" stroke="#f4f4f4" stroke-width="0.8"/>
<line x1="38.4" y1="336.09" x2="290" y2="336.09" stroke="#f4f4f4" stroke-width="0.8"/>
<line x1="59.37" y1="309" x2="59.37" y2="512.2" stroke="#d2d2d2" stroke-width="0.9" stroke-dasharray="1 1.6"/>
<line x1="101.3" y1="309" x2="101.3" y2="512.2" stroke="#d2d2d2" stroke-width="0.9" stroke-dasharray="1 1.6"/>
<line x1="143.23" y1="309" x2="143.23" y2="512.2" stroke="#d2d2d2" stroke-width="0.9" stroke-dasharray="1 1.6"/>
<line x1="185.17" y1="309" x2="185.17" y2="512.2" stroke="#d2d2d2" stroke-width="0.9" stroke-dasharray="1 1.6"/>
<line x1="227.1" y1="309" x2="227.1" y2="512.2" stroke="#d2d2d2" stroke-width="0.9" stroke-dasharray="1 1.6"/>
<line x1="269.03" y1="309" x2="269.03" y2="512.2" stroke="#d2d2d2" stroke-width="0.9" stroke-dasharray="1 1.6"/>
<line x1="38.4" y1="485.11" x2="290" y2="485.11" stroke="#d2d2d2" stroke-width="0.9" stroke-dasharray="1 1.6"/>
<line x1="38.4" y1="458.01" x2="290" y2="458.01" stroke="#d2d2d2" stroke-width="0.9" stroke-dasharray="1 1.6"/>
<line x1="38.4" y1="430.92" x2="290" y2="430.92" stroke="#d2d2d2" stroke-width="0.9" stroke-dasharray="1 1.6"/>
<line x1="38.4" y1="403.83" x2="290" y2="403.83" stroke="#d2d2d2" stroke-width="0.9" stroke-dasharray="1 1.6"/>
<line x1="38.4" y1="376.73" x2="290" y2="376.73" stroke="#d2d2d2" stroke-width="0.9" stroke-dasharray="1 1.6"/>
<line x1="38.4" y1="349.64" x2="290" y2="349.64" stroke="#d2d2d2" stroke-width="0.9" stroke-dasharray="1 1.6"/>
<line x1="38.4" y1="322.55" x2="290" y2="322.55" stroke="#d2d2d2" stroke-width="0.9" stroke-dasharray="1 1.6"/>
<rect x="55.92" y="321.81" width="6.9" height="6.9" fill="#474747" stroke="#333" stroke-width="0.6"/>
<rect x="97.85" y="354.72" width="6.9" height="6.9" fill="#474747" stroke="#333" stroke-width="0.6"/>
<rect x="139.78" y="386.15" width="6.9" height="6.9" fill="#474747" stroke="#333" stroke-width="0.6"/>
<rect x="181.72" y="393.33" width="6.9" height="6.9" fill="#474747" stroke="#333" stroke-width="0.6"/>
<rect x="223.65" y="410.27" width="6.9" height="6.9" fill="#474747" stroke="#333" stroke-width="0.6"/>
<rect x="265.58" y="405.39" width="6.9" height="6.9" fill="#474747" stroke="#333" stroke-width="0.6"/>
<circle cx="59.37" cy="402.47" r="4.2" fill="#ef3a40"/>
<circle cx="101.3" cy="422.25" r="4.2" fill="#ef3a40"/>
<circle cx="143.23" cy="438.91" r="4.2" fill="#ef3a40"/>
<circle cx="185.17" cy="445.01" r="4.2" fill="#ef3a40"/>
<circle cx="227.1" cy="453.54" r="4.2" fill="#ef3a40"/>
<circle cx="269.03" cy="453.95" r="4.2" fill="#ef3a40"/>
<path d="M59.37 477.25L64.27 485.65L54.47 485.65Z" fill="#1b67dc"/>
<path d="M101.3 483.48L106.2 491.88L96.4 491.88Z" fill="#1b67dc"/>
<path d="M143.23 487.41L148.13 495.81L138.33 495.81Z" fill="#1b67dc"/>
<path d="M185.17 489.58L190.07 497.98L180.27 497.98Z" fill="#1b67dc"/>
<path d="M227.1 490.52L232 498.92L222.2 498.92Z" fill="#1b67dc"/>
<path d="M269.03 492.01L273.93 500.41L264.13 500.41Z" fill="#1b67dc"/>
<path d="M59.37 512.2v4.0M59.37 309v4.0M101.3 512.2v4.0M101.3 309v4.0M143.23 512.2v4.0M143.23 309v4.0M185.17 512.2v4.0M185.17 309v4.0M227.1 512.2v4.0M227.1 309v4.0M269.03 512.2v4.0M269.03 309v4.0M38.4 512.2v2.2M38.4 309v2.2M80.33 512.2v2.2M80.33 309v2.2M122.27 512.2v2.2M122.27 309v2.2M164.2 512.2v2.2M164.2 309v2.2M206.13 512.2v2.2M206.13 309v2.2M248.07 512.2v2.2M248.07 309v2.2M290 512.2v2.2M290 309v2.2M38.4 512.2h-4.0M290 512.2h-4.0M38.4 485.11h-4.0M290 485.11h-4.0M38.4 458.01h-4.0M290 458.01h-4.0M38.4 430.92h-4.0M290 430.92h-4.0M38.4 403.83h-4.0M290 403.83h-4.0M38.4 376.73h-4.0M290 376.73h-4.0M38.4 349.64h-4.0M290 349.64h-4.0M38.4 322.55h-4.0M290 322.55h-4.0M38.4 498.65h-2.2M290 498.65h-2.2M38.4 471.56h-2.2M290 471.56h-2.2M38.4 444.47h-2.2M290 444.47h-2.2M38.4 417.37h-2.2M290 417.37h-2.2M38.4 390.28h-2.2M290 390.28h-2.2M38.4 363.19h-2.2M290 363.19h-2.2M38.4 336.09h-2.2M290 336.09h-2.2M38.4 309h-2.2M290 309h-2.2" stroke="#555" stroke-width="1.2" fill="none"/>
<rect x="38.4" y="309" width="251.6" height="203.2" fill="none" stroke="#555" stroke-width="1.3"/>
<text x="59.37" y="530" font-size="14" text-anchor="middle" class="b" >9</text>
<text x="101.3" y="530" font-size="14" text-anchor="middle" class="b" >11</text>
<text x="143.23" y="530" font-size="14" text-anchor="middle" class="b" >13</text>
<text x="185.17" y="530" font-size="14" text-anchor="middle" class="b" >15</text>
<text x="227.1" y="530" font-size="14" text-anchor="middle" class="b" >17</text>
<text x="269.03" y="530" font-size="14" text-anchor="middle" class="b" >19</text>
<text x="31.9" y="516.4" font-size="14" text-anchor="end" class="b" >0</text>
<text x="31.9" y="489.31" font-size="14" text-anchor="end" class="b" >2</text>
<text x="31.9" y="462.21" font-size="14" text-anchor="end" class="b" >4</text>
<text x="31.9" y="435.12" font-size="14" text-anchor="end" class="b" >6</text>
<text x="31.9" y="408.03" font-size="14" text-anchor="end" class="b" >8</text>
<text x="31.9" y="380.93" font-size="14" text-anchor="end" class="b" >10</text>
<text x="31.9" y="353.84" font-size="14" text-anchor="end" class="b" >12</text>
<text x="31.9" y="326.75" font-size="14" text-anchor="end" class="b" >14</text>
<text x="164.2" y="301.6" font-size="14" text-anchor="middle" class="b" >C</text>
<text x="164.2" y="552.4" font-size="14" text-anchor="middle" class="b" >Axon Diameter (µm)</text>
<text x="0" y="0" font-size="14.3" text-anchor="middle" class="b" transform="translate(11.3 411.2) rotate(-90)">RC Current (kA)</text>
<rect x="205.8" y="310.8" width="81.7" height="62.2" fill="#fff" stroke="#c8c8c8" stroke-width="0.9"/>
<text x="207" y="321.1" font-size="9.5" text-anchor="start" >Half-Diameter Coil</text>
<rect x="207.9" y="329" width="76.7" height="4" fill="url(#hb)"/>
<rect x="214.5" y="339" width="7" height="7" fill="#474747" stroke="#333" stroke-width="0.6"/>
<circle cx="218" cy="354.5" r="4.1" fill="#ef3a40"/>
<path d="M218 361.7L222.8 369.5L213.2 369.5Z" fill="#1b67dc"/>
<text x="231.5" y="345.6" font-size="9.4" text-anchor="start" >z = 58 mm</text>
<text x="231.5" y="357.4" font-size="9.4" text-anchor="start" >z = 33 mm</text>
<text x="231.5" y="369.2" font-size="9.4" text-anchor="start" >z = 8 mm</text>
<line x1="385.65" y1="309" x2="385.65" y2="512.2" stroke="#f4f4f4" stroke-width="0.8"/>
<line x1="436.01" y1="309" x2="436.01" y2="512.2" stroke="#f4f4f4" stroke-width="0.8"/>
<line x1="486.37" y1="309" x2="486.37" y2="512.2" stroke="#f4f4f4" stroke-width="0.8"/>
<line x1="536.73" y1="309" x2="536.73" y2="512.2" stroke="#f4f4f4" stroke-width="0.8"/>
<line x1="587.09" y1="309" x2="587.09" y2="512.2" stroke="#f4f4f4" stroke-width="0.8"/>
<line x1="350.4" y1="489.62" x2="602.2" y2="489.62" stroke="#f4f4f4" stroke-width="0.8"/>
<line x1="350.4" y1="444.47" x2="602.2" y2="444.47" stroke="#f4f4f4" stroke-width="0.8"/>
<line x1="350.4" y1="399.31" x2="602.2" y2="399.31" stroke="#f4f4f4" stroke-width="0.8"/>
<line x1="350.4" y1="354.16" x2="602.2" y2="354.16" stroke="#f4f4f4" stroke-width="0.8"/>
<line x1="360.47" y1="309" x2="360.47" y2="512.2" stroke="#d2d2d2" stroke-width="0.9" stroke-dasharray="1 1.6"/>
<line x1="410.83" y1="309" x2="410.83" y2="512.2" stroke="#d2d2d2" stroke-width="0.9" stroke-dasharray="1 1.6"/>
<line x1="461.19" y1="309" x2="461.19" y2="512.2" stroke="#d2d2d2" stroke-width="0.9" stroke-dasharray="1 1.6"/>
<line x1="511.55" y1="309" x2="511.55" y2="512.2" stroke="#d2d2d2" stroke-width="0.9" stroke-dasharray="1 1.6"/>
<line x1="561.91" y1="309" x2="561.91" y2="512.2" stroke="#d2d2d2" stroke-width="0.9" stroke-dasharray="1 1.6"/>
<line x1="350.4" y1="467.04" x2="602.2" y2="467.04" stroke="#d2d2d2" stroke-width="0.9" stroke-dasharray="1 1.6"/>
<line x1="350.4" y1="421.89" x2="602.2" y2="421.89" stroke="#d2d2d2" stroke-width="0.9" stroke-dasharray="1 1.6"/>
<line x1="350.4" y1="376.73" x2="602.2" y2="376.73" stroke="#d2d2d2" stroke-width="0.9" stroke-dasharray="1 1.6"/>
<line x1="350.4" y1="331.58" x2="602.2" y2="331.58" stroke="#d2d2d2" stroke-width="0.9" stroke-dasharray="1 1.6"/>
<line x1="476.0" y1="309" x2="476.0" y2="512.2" stroke="#6e6e6e" stroke-width="2.1" stroke-dasharray="5.8 2.3 1.7 2.5"/>
<path d="M350.4 482.53L350.9 482.4L351.4 482.23L351.9 482.04L352.4 481.83L352.9 481.61L353.4 481.39L353.9 481.17L354.4 480.96L354.9 480.74L355.4 480.52L355.9 480.3L356.4 480.08L356.9 479.86L357.4 479.65L357.9 479.43L358.4 479.21L358.9 478.99L359.4 478.77L359.9 478.55L360.4 478.34L360.9 478.12L361.4 477.9L361.9 477.68L362.4 477.46L362.9 477.24L363.4 477.02L363.9 476.81L364.4 476.59L364.9 476.37L365.4 476.15L365.9 475.94L366.4 475.73L366.9 475.53L367.4 475.34L367.9 475.14L368.4 474.95L368.9 474.75L369.4 474.53L369.9 474.3L370.4 474.05L370.9 473.78L371.4 473.51L371.9 473.22L372.4 472.91L372.9 472.6L373.4 472.29L373.9 471.98L374.4 471.66L374.9 471.35L375.4 471.03L375.9 470.72L376.4 470.41L376.9 470.09L377.4 469.78L377.9 469.47L378.4 469.15L378.9 468.83L379.4 468.5L379.9 468.16L380.4 467.81L380.9 467.46L381.4 467.11L381.9 466.77L382.4 466.45L382.9 466.14L383.4 465.86L383.9 465.6L384.4 465.36L384.9 465.14L385.4 464.94L385.9 464.76L386.4 464.61L386.9 464.46L387.4 464.33L387.9 464.2L388.4 464.07L388.9 463.94L389.4 463.8L389.9 463.65L390.4 463.5L390.9 463.35L391.4 463.2L391.9 463.04L392.4 462.89L392.9 462.73L393.4 462.57L393.9 462.41L394.4 462.25L394.9 462.08L395.4 461.91L395.9 461.74L396.4 461.56L396.9 461.38L397.4 461.2L397.9 461.02L398.4 460.83L398.9 460.64L399.4 460.44L399.9 460.24L400.4 460.03L400.9 459.83L401.4 459.61L401.9 459.39L402.4 459.17L402.9 458.94L403.4 458.71L403.9 458.47L404.4 458.23L404.9 457.98L405.4 457.72L405.9 457.46L406.4 457.19L406.9 456.92L407.4 456.64L407.9 456.35L408.4 456.06L408.9 455.76L409.4 455.45L409.9 455.14L410.4 454.82L410.9 454.49L411.4 454.15L411.9 453.81L412.4 453.45L412.9 453.09L413.4 452.73L413.9 452.35L414.4 451.96L414.9 451.57L415.4 451.17L415.9 450.75L416.4 450.33L416.9 449.9L417.4 449.46L417.9 449.01L418.4 448.56L418.9 448.09L419.4 447.61L419.9 447.12L420.4 446.62L420.9 446.11L421.4 445.59L421.9 445.05L422.4 444.51L422.9 443.94L423.4 443.35L423.9 442.75L424.4 442.16L424.9 441.61L425.4 441.14L425.9 440.77L426.4 440.49L426.9 440.28L427.4 440.12L427.9 439.97L428.4 439.81L428.9 439.65L429.4 439.47L429.9 439.29L430.4 439.1L430.9 438.9L431.4 438.7L431.9 438.49L432.4 438.27L432.9 438.04L433.4 437.81L433.9 437.57L434.4 437.32L434.9 437.07L435.4 436.81L435.9 436.54L436.4 436.26L436.9 435.98L437.4 435.69L437.9 435.39L438.4 435.09L438.9 434.78L439.4 434.46L439.9 434.13L440.4 433.8L440.9 433.46L441.4 433.11L441.9 432.76L442.4 432.39L442.9 432.03L443.4 431.65L443.9 431.27L444.4 430.88L444.9 430.48L445.4 430.08L445.9 429.67L446.4 429.25L446.9 428.82L447.4 428.39L447.9 427.95L448.4 427.51L448.9 427.05L449.4 426.59L449.9 426.12L450.4 425.65L450.9 425.17L451.4 424.68L451.9 424.18L452.4 423.68L452.9 423.17L453.4 422.66L453.9 422.13L454.4 421.6L454.9 421.07L455.4 420.52L455.9 419.97L456.4 419.41L456.9 418.85L457.4 418.28L457.9 417.7L458.4 417.11L458.9 416.51L459.4 415.9L459.9 415.29L460.4 414.67L460.9 414.05L461.4 413.42L461.9 412.78L462.4 412.13L462.9 411.47L463.4 410.81L463.9 410.14L464.4 409.47L464.9 408.79L465.4 408.11L465.9 407.43L466.4 406.75L466.9 406.1L467.4 405.48L467.9 404.9L468.4 404.36L468.9 403.87L469.4 403.42L469.9 403.02L470.4 402.6L470.9 402.21L471.4 401.86L471.9 401.55L472.4 401.29L472.9 401.08L473.4 400.9L473.9 400.75L474.4 400.6L474.9 400.45L475.4 400.3L475.9 400.14L476.4 399.98L476.9 399.81L477.4 399.63L477.9 399.45L478.4 399.27L478.9 399.09L479.4 398.91L479.9 398.72L480.4 398.54L480.9 398.35L481.4 398.16L481.9 397.97L482.4 397.78L482.9 397.59L483.4 397.4L483.9 397.2L484.4 397.01L484.9 396.81L485.4 396.62L485.9 396.42L486.4 396.22L486.9 396.03L487.4 395.83L487.9 395.63L488.4 395.43L488.9 395.23L489.4 395.03L489.9 394.82L490.4 394.62L490.9 394.42L491.4 394.21L491.9 394L492.4 393.8L492.9 393.59L493.4 393.38L493.9 393.17L494.4 392.96L494.9 392.75L495.4 392.54L495.9 392.33L496.4 392.11L496.9 391.9L497.4 391.68L497.9 391.47L498.4 391.25L498.9 391.03L499.4 390.81L499.9 390.59L500.4 390.37L500.9 390.15L501.4 389.93L501.9 389.7L502.4 389.48L502.9 389.26L503.4 389.03L503.9 388.8L504.4 388.57L504.9 388.34L505.4 388.11L505.9 387.88L506.4 387.65L506.9 387.42L507.4 387.18L507.9 386.95L508.4 386.71L508.9 386.48L509.4 386.24L509.9 386L510.4 385.76L510.9 385.52L511.4 385.28L511.9 385.04L512.4 384.79L512.9 384.55L513.4 384.3L513.9 384.05L514.4 383.81L514.9 383.56L515.4 383.31L515.9 383.06L516.4 382.8L516.9 382.55L517.4 382.3L517.9 382.04L518.4 381.78L518.9 381.53L519.4 381.27L519.9 381.01L520.4 380.75L520.9 380.48L521.4 380.22L521.9 379.96L522.4 379.69L522.9 379.43L523.4 379.16L523.9 378.89L524.4 378.62L524.9 378.35L525.4 378.08L525.9 377.8L526.4 377.53L526.9 377.25L527.4 376.98L527.9 376.7L528.4 376.42L528.9 376.14L529.4 375.86L529.9 375.58L530.4 375.29L530.9 375.01L531.4 374.72L531.9 374.43L532.4 374.15L532.9 373.86L533.4 373.57L533.9 373.27L534.4 372.98L534.9 372.68L535.4 372.39L535.9 372.09L536.4 371.79L536.9 371.49L537.4 371.19L537.9 370.89L538.4 370.59L538.9 370.28L539.4 369.98L539.9 369.67L540.4 369.36L540.9 369.05L541.4 368.74L541.9 368.43L542.4 368.11L542.9 367.8L543.4 367.48L543.9 367.16L544.4 366.85L544.9 366.53L545.4 366.2L545.9 365.88L546.4 365.56L546.9 365.23L547.4 364.9L547.9 364.58L548.4 364.25L548.9 363.91L549.4 363.58L549.9 363.25L550.4 362.91L550.9 362.58L551.4 362.24L551.9 361.9L552.4 361.56L552.9 361.22L553.4 360.87L553.9 360.53L554.4 360.18L554.9 359.83L555.4 359.48L555.9 359.13L556.4 358.78L556.9 358.43L557.4 358.07L557.9 357.72L558.4 357.36L558.9 357L559.4 356.64L559.9 356.28L560.4 355.91L560.9 355.55L561.4 355.18L561.9 354.81L562.4 354.44L562.9 354.07L563.4 353.7L563.9 353.32L564.4 352.95L564.9 352.57L565.4 352.19L565.9 351.81L566.4 351.43L566.9 351.05L567.4 350.66L567.9 350.28L568.4 349.89L568.9 349.5L569.4 349.11L569.9 348.72L570.4 348.32L570.9 347.93L571.4 347.53L571.9 347.13L572.4 346.73L572.9 346.33L573.4 345.92L573.9 345.52L574.4 345.11L574.9 344.7L575.4 344.29L575.9 343.88L576.4 343.47L576.9 343.05L577.4 342.63L577.9 342.22L578.4 341.8L578.9 341.37L579.4 340.95L579.9 340.53L580.4 340.1L580.9 339.67L581.4 339.24L581.9 338.81L582.4 338.38L582.9 337.94L583.4 337.51L583.9 337.07L584.4 336.63L584.9 336.19L585.4 335.74L585.9 335.3L586.4 334.85L586.9 334.4L587.4 333.95L587.9 333.5L588.4 333.05L588.9 332.59L589.4 332.13L589.9 331.67L590.4 331.21L590.9 330.75L591.4 330.29L591.9 329.82L592.4 329.35L592.9 328.88L593.4 328.41L593.9 327.94L594.4 327.46L594.9 326.99L595.4 326.51L595.9 326.03L596.4 325.55L596.9 325.06L597.4 324.58L597.9 324.09L598.4 323.6L598.9 323.11L599.4 322.62L599.9 322.13L600.4 321.66L600.9 321.22L601.4 320.86L601.8 320.58" stroke="#000" stroke-width="1.9" fill="none" stroke-linejoin="round"/>
<path d="M360.47 512.2v4.0M360.47 309v4.0M410.83 512.2v4.0M410.83 309v4.0M461.19 512.2v4.0M461.19 309v4.0M511.55 512.2v4.0M511.55 309v4.0M561.91 512.2v4.0M561.91 309v4.0M385.65 512.2v2.2M385.65 309v2.2M436.01 512.2v2.2M436.01 309v2.2M486.37 512.2v2.2M486.37 309v2.2M536.73 512.2v2.2M536.73 309v2.2M587.09 512.2v2.2M587.09 309v2.2M350.4 512.2h-4.0M602.2 512.2h-4.0M350.4 467.04h-4.0M602.2 467.04h-4.0M350.4 421.89h-4.0M602.2 421.89h-4.0M350.4 376.73h-4.0M602.2 376.73h-4.0M350.4 331.58h-4.0M602.2 331.58h-4.0M350.4 489.62h-2.2M602.2 489.62h-2.2M350.4 444.47h-2.2M602.2 444.47h-2.2M350.4 399.31h-2.2M602.2 399.31h-2.2M350.4 354.16h-2.2M602.2 354.16h-2.2M350.4 309h-2.2M602.2 309h-2.2" stroke="#555" stroke-width="1.2" fill="none"/>
<rect x="350.4" y="309" width="251.8" height="203.2" fill="none" stroke="#555" stroke-width="1.3"/>
<rect x="601" y="308.4" width="2" height="204.4" fill="#9a9a9a"/>
<text x="360.47" y="530" font-size="14" text-anchor="middle" class="b" >10</text>
<text x="410.83" y="530" font-size="14" text-anchor="middle" class="b" >20</text>
<text x="461.19" y="530" font-size="14" text-anchor="middle" class="b" >30</text>
<text x="511.55" y="530" font-size="14" text-anchor="middle" class="b" >40</text>
<text x="561.91" y="530" font-size="14" text-anchor="middle" class="b" >50</text>
<text x="343.7" y="516.4" font-size="14" text-anchor="end" class="b" >0</text>
<text x="343.7" y="471.24" font-size="14" text-anchor="end" class="b" >2</text>
<text x="343.7" y="426.09" font-size="14" text-anchor="end" class="b" >4</text>
<text x="343.7" y="380.93" font-size="14" text-anchor="end" class="b" >6</text>
<text x="343.7" y="335.78" font-size="14" text-anchor="end" class="b" >8</text>
<text x="475.8" y="301.6" font-size="14" text-anchor="middle" class="b" >D</text>
<text x="475.7" y="552.4" font-size="14.25" text-anchor="middle" class="b" >Lateral Distance to Axon (mm)</text>
<text x="0" y="0" font-size="14.3" text-anchor="middle" class="b" transform="translate(331.1 411.2) rotate(-90)">RC Current (kA)</text>
<text class="b" x="481" y="504.4" font-size="14">z<tspan font-size="9.6" dy="4.1">regular</tspan></text>
<rect x="354.6" y="311.6" width="87.1" height="53.1" fill="#fff" stroke="#c8c8c8" stroke-width="0.9"/>
<text x="356.3" y="322.1" font-size="10" text-anchor="start" >Half-Diameter Coil</text>
<rect x="357" y="331.2" width="81.7" height="4.4" fill="url(#hb)"/>
<text x="357" y="348.6" font-size="10" text-anchor="start" >Axon Diameter</text>
<line x1="357" y1="357.4" x2="379.5" y2="357.4" stroke="#000" stroke-width="1.9"/>
<text x="382.8" y="361.4" font-size="10" text-anchor="start" >15 µm</text>
</svg>
</body></html>
